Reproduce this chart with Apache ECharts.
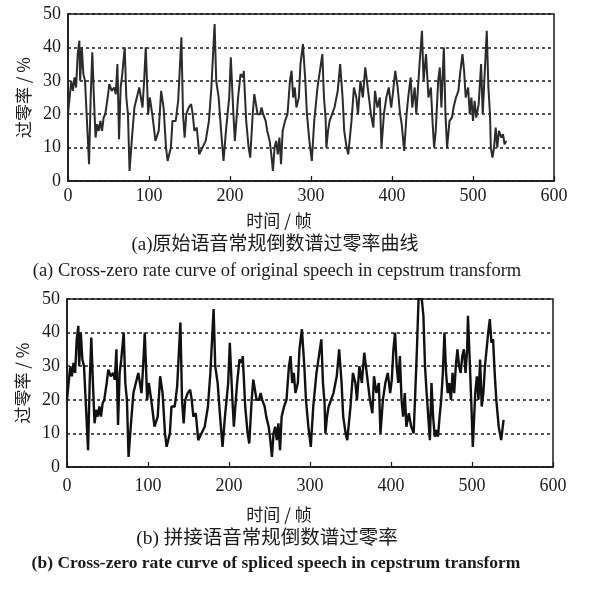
<!DOCTYPE html>
<html><head><meta charset="utf-8">
<script src="https://cdn.jsdelivr.net/npm/echarts@6/dist/echarts.min.js"></script>
<style>html,body{margin:0;padding:0;background:#fff}#c{width:594px;height:589px}</style>
</head><body><div id="c"></div>
<script>
// ---- data ----
const xTickStep = 100;
const yTickStep = 10;
// frames 0-399: identical in both curves
const sharedFrames = [0,2,4,6,8,10,12,14,15,17,19,21,23,26,28,30,32,34,36,38,40,42,44,46,49,51,54,57,59,61,63,65,67,70,72,74,76,79,82,85,88,90,92,94,96,99,101,104,108,112,115,118,121,123,127,129,133,136,140,142,144,146,149,152,154,156,159,162,166,170,174,177,181,183,186,189,192,195,199,201,204,206,210,213,216,217,220,223,225,228,230,234,237,239,241,244,246,249,251,253,255,257,259,261,263,265,268,271,274,276,278,280,282,285,287,290,293,295,298,301,304,308,311,314,316,318,319,321,323,326,329,333,336,339,341,344,346,350,353,356,358,361,364,367,370,374,377,379,382,385,387,390,393,396,399];
const sharedValues = [20,25,30,27,31,28,38,42,30,40,32,30,20,5,25,38.5,25,13,17,15,18,15,19,20,25,29,27,28,26,35,12.5,28,32,40,25,20,3,13,22,25,28,25,22,30,40,20,25,20,12,15,27,22,10,6,10,18,18,24,43,20,13,20,22,23,20,15,16,8,10,12,18,28,47,30,25,15,6,15,25,37,21,12,25,32,31,33,18,10,7,20,26,20,20,22,20,18,15,12,8,3,10,12,8,13,5,15,18,20,30,33,25,28,22,25,35,41,30,20,12,6,18,28,33,38,25,19,10,15,18,20,22,27,35,25,15,10,8,18,28,25,20,30,25,34,28,20,16,27,22,25,10,20,25,28,22];
// (a) original speech, frames 400+
const tailFramesA = [401,404,407,410,412,415,418,420,423,425,428,430,434,437,439,442,445,448,450,452,454,457,459,461,464,466,468,471,474,476,479,482,484,487,489,491,494,496,498,500,502,504,507,510,512,515,517,519,521,522,524,526,528,530,532,535,537,539,541];
const tailValuesA = [26,33,28,20,17,9,20,25,31,22,28,20,35,45,30,38,25,28,18,10,15,30,34,22,40,20,10,18,19,22,25,27,32,38,33,25,28,20,25,18,24,19,23,35,20,35,45,28,20,10,7,10,16,10,15,13,14,11,12];
// (b) spliced speech, frames 400+
const tailFramesB = [401,403,405,407,409,411,413,415,417,419,422,425,428,430,432,434,438,440,442,444,446,448,450,452,454,456,458,460,462,464,466,468,470,472,474,476,478,480,482,484,486,488,490,492,494,495,497,499,501,504,506,508,510,512,514,516,518,520,522,524,526,528,530,533,536,539];
const tailValuesB = [26,35,40,30,25,33,20,15,22,12,16,12,10,10,35,50,50,45,30,22,15,8,25,15,9,11,9,15,20,28,40,28,22,25,20,28,22,30,35,30,28,33,35,28,35,45,33,20,6,22,27,20,32,18,22,30,35,40,44,37,38,28,20,12,8,14];
</script>
<script>
const framesA = sharedFrames.concat(tailFramesA);
const valuesA = sharedValues.concat(tailValuesA);
const framesB = sharedFrames.concat(tailFramesB);
const valuesB = sharedValues.concat(tailValuesB);

const serif = "'Liberation Serif','Noto Sans CJK SC',serif";
const cjk = "'Noto Sans CJK SC',sans-serif";
const ink = '#1a1a1a';

function xAxisCfg(gi, margin) {
  return {
    type: 'value', gridIndex: gi, min: 0, max: 600, interval: xTickStep,
    axisLine: { show: true, lineStyle: { color: ink, width: 1.5 } },
    axisTick: { show: true, inside: true, length: 5, lineStyle: { color: ink, width: 1.2 } },
    axisLabel: { fontSize: 18, fontFamily: serif, color: ink, margin: margin },
    splitLine: { show: false }
  };
}
function yAxisCfg(gi) {
  return {
    type: 'value', gridIndex: gi, min: 0, max: 50, interval: yTickStep,
    name: '过零率 / %', nameLocation: 'middle', nameGap: 36, nameRotate: 90,
    nameTextStyle: { fontSize: 17, fontFamily: cjk, color: ink },
    axisLine: { show: true, lineStyle: { color: ink, width: 1.5 } },
    axisTick: { show: false },
    axisLabel: { fontSize: 18, fontFamily: serif, color: ink, margin: 7 },
    splitLine: { show: true, lineStyle: { color: ink, width: 1.5, type: [3, 3] } }
  };
}
function text(x, y, s, size, bold, fam) {
  return { type: 'text', x: x, y: y, style: { text: s, fontSize: size, fontFamily: fam || serif,
    fontWeight: bold ? 'bold' : 'normal', fill: ink, textAlign: 'center', textVerticalAlign: 'middle' } };
}

const chart = echarts.init(document.getElementById('c'), null, { renderer: 'canvas' });
chart.setOption({
  animation: false,
  backgroundColor: '#fff',
  grid: [
    { left: 68, top: 14, width: 486, height: 167, show: true, borderColor: ink, borderWidth: 1.5, backgroundColor: 'transparent' },
    { left: 67, top: 299, width: 486, height: 168, show: true, borderColor: ink, borderWidth: 1.5, backgroundColor: 'transparent' }
  ],
  xAxis: [xAxisCfg(0, 6), xAxisCfg(1, 10)],
  yAxis: [yAxisCfg(0), yAxisCfg(1)],
  series: [
    { type: 'line', xAxisIndex: 0, yAxisIndex: 0, showSymbol: false, symbol: 'none',
      lineStyle: { color: '#2b2b2b', width: 2 }, data: framesA.map((f, i) => [f, valuesA[i]]) },
    { type: 'line', xAxisIndex: 1, yAxisIndex: 1, showSymbol: false, symbol: 'none',
      lineStyle: { color: '#111', width: 2.4 }, data: framesB.map((f, i) => [f, valuesB[i]]) }
  ],
  graphic: [
    text(279, 221, '时间 / 帧', 17, false, cjk),
    text(275, 245, '(a)原始语音常规倒数谱过零率曲线', 19, false, serif),
    text(277, 271, '(a) Cross-zero rate curve of original speech in cepstrum transform', 18.5, false, serif),
    text(279, 515, '时间 / 帧', 17, false, cjk),
    text(267, 539, '(b) 拼接语音常规倒数谱过零率', 19.5, false, serif),
    text(276, 563, '(b) Cross-zero rate curve of spliced speech in cepstrum transform', 17.5, true, serif)
  ]
});
</script>
</body></html>
